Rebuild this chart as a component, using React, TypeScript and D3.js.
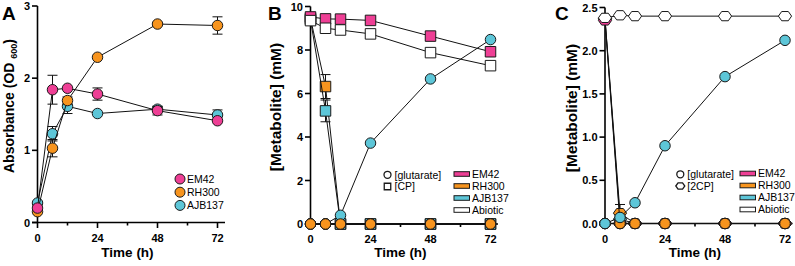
import React from 'react';
import * as d3 from 'd3';

// sampling times (h)
const times = [0, 6, 12, 24, 48, 72];
const xTicks = [0, 24, 48, 72];
const xMinorTicks = [12, 36, 60];

const strainNames = ['EM42', 'RH300', 'AJB137', 'Abiotic'];
const strainColors = ['#EE3F95', '#F7941E', '#5DC6D8', '#FFFFFF'];

// Panel A: growth (OD600)
const odEM42 = [0.2, 1.84, 1.86, 1.78, 1.55, 1.41];
const odEM42Err = [0.02, 0.2, 0.03, 0.085, 0.06, 0.03];
const odRH300 = [0.15, 1.03, 1.69, 2.29, 2.75, 2.73];
const odRH300Err = [0.02, 0.12, 0.05, 0.03, 0.03, 0.12];
const odAJB137 = [0.27, 1.23, 1.61, 1.51, 1.57, 1.49];
const odAJB137Err = [0.02, 0.1, 0.1, 0.03, 0.04, 0.07];
const yTicksA = [0, 1, 2, 3];

// Panel B: CP consumption / glutarate production (mM)
const cpEM42 = [9.52, 9.43, 9.42, 9.36, 8.64, 7.92];
const cpRH300 = [9.45, 6.32, 0, 0, 0, 0];
const cpRH300Err = [0, 0.55, 0, 0, 0, 0];
const cpAJB137 = [9.4, 5.2, 0, 0, 0, 0];
const cpAJB137Err = [0, 0.5, 0, 0, 0, 0];
const cpAbiotic = [9.35, 9.0, 8.92, 8.74, 7.88, 7.28];
const glutB_EM42 = [0, 0, 0, 0, 0, 0];
const glutB_RH300 = [0, 0, 0, 0, 0, 0];
const glutB_AJB137 = [0, 0, 0.4, 3.72, 6.67, 8.48];
const glutB_Abiotic = [0, 0, 0, 0, 0, 0];
const yTicksB = [0, 2, 4, 6, 8, 10];

// Panel C: 2CP consumption / glutarate production (mM)
const cp2EM42 = [2.35, 0, 0, 0, 0, 0];
const cp2RH300 = [2.37, 0.12, 0, 0, 0, 0];
const cp2RH300Err = [0, 0.1, 0, 0, 0, 0];
const cp2AJB137 = [2.37, 0.05, 0, 0, 0, 0];
const cp2Abiotic = [2.38, 2.41, 2.4, 2.4, 2.4, 2.4];
const glutC_EM42 = [0, 0, 0, 0, 0, 0];
const glutC_RH300 = [0, 0, 0, 0, 0, 0];
const glutC_AJB137 = [0, 0.07, 0.24, 0.9, 1.7, 2.12];
const glutC_Abiotic = [0, 0, 0, 0, 0, 0];
const yTicksC = [0, 0.5, 1, 1.5, 2, 2.5];

type Shape = 'circle' | 'square' | 'hexagon';
type Series = { values: number[]; err?: number[]; color: string; shape: Shape };

const FONT = '"Liberation Sans", Arial, Helvetica, sans-serif';

function markerPath(shape: Shape, size: number) {
  const h = size / 2;
  if (shape === 'square') return `M${-h},${-h}H${h}V${h}H${-h}Z`;
  if (shape === 'hexagon') {
    const w = size * 0.6;
    const v = size * 0.42;
    return `M${-w},0L${-w / 2},${-v}L${w / 2},${-v}L${w},0L${w / 2},${v}L${-w / 2},${v}Z`;
  }
  return `M${-h},0A${h},${h} 0 1,0 ${h},0A${h},${h} 0 1,0 ${-h},0Z`;
}

const Marker = ({ x, y, shape, color, size, sw = 1 }: any) => (
  <path d={markerPath(shape, size)} transform={`translate(${x},${y})`} fill={color} stroke="#1a1a1a" strokeWidth={sw} />
);

type PanelProps = {
  letter: string;
  x0: number;
  yTop: number;
  yBottom: number;
  yMax: number;
  yTicks: number[];
  yFormat: (v: number) => string;
  yTitle: React.ReactNode;
  yTitleSize: number;
  yTitleX: number;
  yTitleY: number;
  letterX: number;
  series: Series[];
  legend: React.ReactNode;
};

const Panel = (p: PanelProps) => {
  const x = d3.scaleLinear().domain([0, 75]).range([p.x0, p.x0 + 187.5]);
  const y = d3.scaleLinear().domain([0, p.yMax]).range([p.yBottom, p.yTop]);
  const line = d3.line<number>().x((_, i) => x(times[i])).y((d) => y(d));
  const xEnd = x(75);
  return (
    <g>
      <text x={p.letterX} y={20} fontFamily={FONT} fontWeight="bold" fontSize={19}>{p.letter}</text>
      {/* axes */}
      <line x1={p.x0} x2={p.x0} y1={y(p.yMax)} y2={p.yBottom} stroke="#000" strokeWidth={1.6} />
      <line x1={p.x0 - 5.5} x2={xEnd} y1={p.yBottom} y2={p.yBottom} stroke="#000" strokeWidth={1.6} />
      {p.yTicks.map((t) => (
        <g key={'y' + t}>
          <line x1={p.x0 - 5.5} x2={p.x0} y1={y(t)} y2={y(t)} stroke="#000" strokeWidth={1.6} />
          <text x={p.x0 - 7.5} y={y(t) + 4} textAnchor="end" fontFamily={FONT} fontWeight="bold" fontSize={11}>
            {p.yFormat(t)}
          </text>
        </g>
      ))}
      {xTicks.map((t) => (
        <g key={'x' + t}>
          <line x1={x(t)} x2={x(t)} y1={p.yBottom} y2={p.yBottom + 5.5} stroke="#000" strokeWidth={1.6} />
          <text x={x(t)} y={p.yBottom + 19} textAnchor="middle" fontFamily={FONT} fontWeight="bold" fontSize={11}>
            {t}
          </text>
        </g>
      ))}
      {xMinorTicks.map((t) => (
        <line key={'m' + t} x1={x(t)} x2={x(t)} y1={p.yBottom} y2={p.yBottom + 3} stroke="#000" strokeWidth={1.6} />
      ))}
      <text x={(p.x0 + x(72)) / 2} y={257} textAnchor="middle" fontFamily={FONT} fontWeight="bold" fontSize={13.5}>
        Time (h)
      </text>
      <text
        transform={`translate(${p.yTitleX},${p.yTitleY}) rotate(-90)`}
        textAnchor="middle"
        fontFamily={FONT}
        fontWeight="bold"
        fontSize={p.yTitleSize}
      >
        {p.yTitle}
      </text>
      {/* data */}
      {p.series.map((s, si) => (
        <g key={si}>
          <path d={line(s.values) || ''} fill="none" stroke="#111" strokeWidth={1} />
          {s.err &&
            s.values.map((v, i) =>
              s.err![i] > 0.035 ? (
                <g key={i} stroke="#111" strokeWidth={1}>
                  <line x1={x(times[i])} x2={x(times[i])} y1={y(v - s.err![i])} y2={y(v + s.err![i])} />
                  <line x1={x(times[i]) - 5} x2={x(times[i]) + 5} y1={y(v + s.err![i])} y2={y(v + s.err![i])} />
                  <line x1={x(times[i]) - 5} x2={x(times[i]) + 5} y1={y(v - s.err![i])} y2={y(v - s.err![i])} />
                </g>
              ) : null
            )}
          {s.values.map((v, i) => (
            <Marker key={i} x={x(times[i])} y={y(v)} shape={s.shape} color={s.color} size={s.shape === 'hexagon' ? 11 : 10.5} />
          ))}
        </g>
      ))}
      {p.legend}
    </g>
  );
};

const LegendText = ({ x, y, children }: any) => (
  <text x={x} y={y + 3.7} fontFamily={FONT} fontSize={10.5}>{children}</text>
);

const MetaboliteLegend = ({ cx, rx, top, second }: { cx: number; rx: number; top: number; second: Shape }) => (
  <g>
    <Marker x={cx} y={top + 0.8} shape="circle" color="#fff" size={7} sw={1.3} />
    <LegendText x={cx + 7} y={top + 0.8}>[glutarate]</LegendText>
    <Marker x={cx} y={top + 12.5} shape={second} color="#fff" size={second === 'hexagon' ? 7.5 : 6.5} sw={1.3} />
    <LegendText x={cx + 7} y={top + 12.5}>{second === 'square' ? '[CP]' : '[2CP]'}</LegendText>
    {strainNames.map((n, i) => (
      <g key={n}>
        <rect x={rx} y={top - 2.3 + i * 12} width={15.5} height={4.6} fill={strainColors[i]} stroke="#1a1a1a" strokeWidth={1} />
        <LegendText x={rx + 18} y={top + i * 12}>{n}</LegendText>
      </g>
    ))}
  </g>
);

export default function App() {
  const seriesA: Series[] = [
    { values: odAJB137, err: odAJB137Err, color: strainColors[2], shape: 'circle' },
    { values: odRH300, err: odRH300Err, color: strainColors[1], shape: 'circle' },
    { values: odEM42, err: odEM42Err, color: strainColors[0], shape: 'circle' },
  ];
  const seriesB: Series[] = [
    { values: cpRH300, err: cpRH300Err, color: strainColors[1], shape: 'square' },
    { values: cpAJB137, err: cpAJB137Err, color: strainColors[2], shape: 'square' },
    { values: cpEM42, color: strainColors[0], shape: 'square' },
    { values: cpAbiotic, color: strainColors[3], shape: 'square' },
    { values: glutB_Abiotic, color: strainColors[3], shape: 'circle' },
    { values: glutB_EM42, color: strainColors[0], shape: 'circle' },
    { values: glutB_AJB137, color: strainColors[2], shape: 'circle' },
    { values: glutB_RH300, color: strainColors[1], shape: 'circle' },
  ];
  const seriesC: Series[] = [
    { values: cp2AJB137, color: strainColors[2], shape: 'hexagon' },
    { values: cp2RH300, err: cp2RH300Err, color: strainColors[1], shape: 'hexagon' },
    { values: cp2EM42, color: strainColors[0], shape: 'hexagon' },
    { values: cp2Abiotic, color: strainColors[3], shape: 'hexagon' },
    { values: glutC_Abiotic, color: strainColors[3], shape: 'circle' },
    { values: glutC_EM42, color: strainColors[0], shape: 'circle' },
    { values: glutC_RH300, color: strainColors[1], shape: 'circle' },
    { values: glutC_AJB137, color: strainColors[2], shape: 'circle' },
  ];

  const legendA = (
    <g>
      {[0, 1, 2].map((i) => (
        <g key={i}>
          <Marker x={180} y={179 + i * 13.2} shape="circle" color={strainColors[i]} size={10} />
          <LegendText x={187} y={179 + i * 13.2}>{strainNames[i]}</LegendText>
        </g>
      ))}
    </g>
  );

  return (
    <div style={{ position: 'absolute', left: 0, top: 0, width: 795, height: 266, background: '#fff' }}>
      <svg width={795} height={266} viewBox="0 0 795 266" style={{ display: 'block' }}>
        <Panel
          letter="A"
          letterX={2}
          x0={37.5}
          yTop={6}
          yBottom={222.5}
          yMax={3}
          yTicks={yTicksA}
          yFormat={(v) => String(v)}
          yTitle={
            <>
              Absorbance (OD <tspan fontSize={9} dy={3}>600</tspan>
              <tspan dy={-3}>)</tspan>
            </>
          }
          yTitleSize={14}
          yTitleX={14}
          yTitleY={106}
          series={seriesA}
          legend={legendA}
        />
        <Panel
          letter="B"
          letterX={268}
          x0={310.5}
          yTop={6.5}
          yBottom={224}
          yMax={10}
          yTicks={yTicksB}
          yFormat={(v) => String(v)}
          yTitle="[Metabolite] (mM)"
          yTitleSize={15.5}
          yTitleX={281}
          yTitleY={107}
          series={seriesB}
          legend={<MetaboliteLegend cx={387.5} rx={454} top={174} second="square" />}
        />
        <Panel
          letter="C"
          letterX={555}
          x0={605}
          yTop={7.5}
          yBottom={223.5}
          yMax={2.5}
          yTicks={yTicksC}
          yFormat={d3.format('.1f')}
          yTitle="[Metabolite] (mM)"
          yTitleSize={15.5}
          yTitleX={576.5}
          yTitleY={108}
          series={seriesC}
          legend={<MetaboliteLegend cx={680.3} rx={740} top={173.5} second="hexagon" />}
        />
      </svg>
    </div>
  );
}
